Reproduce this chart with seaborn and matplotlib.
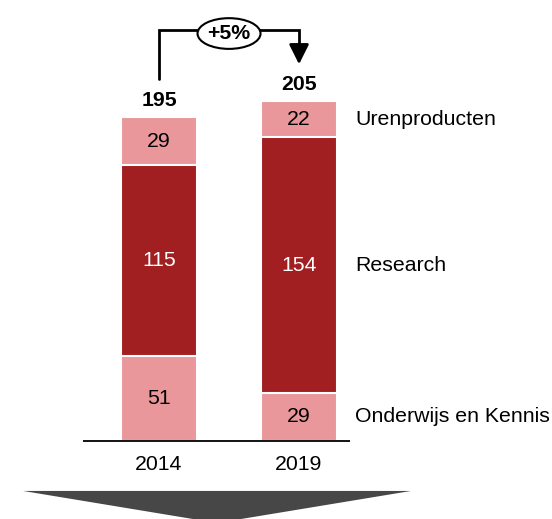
import matplotlib.pyplot as plt
import seaborn as sns
import pandas as pd
import numpy as np
from matplotlib.patches import Ellipse, Polygon

# data
years = ["2014", "2019"]
onderwijs = [51, 29]
research = [115, 154]
urenproducten = [29, 22]
segment_names = ["Onderwijs en Kennis", "Research", "Urenproducten"]
growth_label = "+5%"

light = "#E9979A"
dark = "#A11E21"

sns.set_style("white")
plt.rcParams["font.family"] = ["Liberation Sans", "DejaVu Sans"]
plt.rcParams["text.color"] = "black"

df = pd.DataFrame({"year": years, "onderwijs": onderwijs,
                   "research": research, "uren": urenproducten})
df["c1"] = df["onderwijs"]
df["c2"] = df["c1"] + df["research"]
df["c3"] = df["c2"] + df["uren"]

fig = plt.figure(figsize=(5.52, 5.19), dpi=100)
ax = fig.add_axes([0, 0, 1, 1])

bw = 0.543
fs = 15.3
# stacked by overlaying cumulative heights
for col, colr in [("c3", light), ("c2", dark), ("c1", light)]:
    sns.barplot(data=df, x="year", y=col, color=colr, width=bw,
                edgecolor="white", linewidth=1.5, saturation=1, ax=ax)

ax.set_xlim(-1.136, 2.807)
ax.set_ylim(-47.0, 265.7)
ax.axis("off")

# baseline
ax.plot([-0.543, 1.364], [0, 0], color="black", lw=1.3, solid_capstyle="butt")

# segment value labels
for i in range(len(years)):
    ax.text(i, df["onderwijs"][i] / 2, str(df["onderwijs"][i]),
            ha="center", va="center", fontsize=fs, color="black")
    ax.text(i, df["c1"][i] + df["research"][i] / 2, str(df["research"][i]),
            ha="center", va="center", fontsize=fs, color="white")
    ax.text(i, df["c2"][i] + df["uren"][i] / 2, str(df["uren"][i]),
            ha="center", va="center", fontsize=fs, color="black")
    ax.text(i, df["c3"][i] + 10, str(df["c3"][i]), ha="center", va="center",
            fontsize=fs, fontweight="bold", color="black")
    ax.text(i, -14, years[i], ha="center", va="center", fontsize=fs,
            color="black")

# segment names next to last bar
last = len(years) - 1
mids = [df["onderwijs"][last] / 2,
        df["c1"][last] + df["research"][last] / 2,
        df["c2"][last] + df["uren"][last] / 2]
for name, m in zip(segment_names, mids):
    ax.text(1.40, m, name, ha="left", va="center", fontsize=fs, color="black")

# growth arrow
t0, t1 = df["c3"][0], df["c3"][1]
ytop = max(t0, t1) + 42.5
ax.plot([0, 0, 1, 1], [t0 + 23, ytop, ytop, t1 + 33],
        color="black", lw=2, solid_joinstyle="miter")
ax.annotate("", xy=(1, t1 + 22), xytext=(1, t1 + 34),
            arrowprops=dict(arrowstyle="-|>,head_length=1.2,head_width=0.6",
                            color="black", lw=2, shrinkA=0, shrinkB=0))
ax.add_patch(Ellipse((0.5, ytop - 2), 0.45, 18.5, facecolor="white",
                     edgecolor="black", lw=1.5, zorder=5))
ax.text(0.5, ytop - 2, growth_label, ha="center", va="center", fontsize=fs,
        fontweight="bold", color="black", zorder=6)

# grey chevron at the bottom
ax.add_patch(Polygon([(-0.971, -30.1), (1.800, -30.1), (0.414, -49.4)],
                     closed=True, facecolor="#474747", edgecolor="none"))

fig.savefig("out.png", dpi=100)
